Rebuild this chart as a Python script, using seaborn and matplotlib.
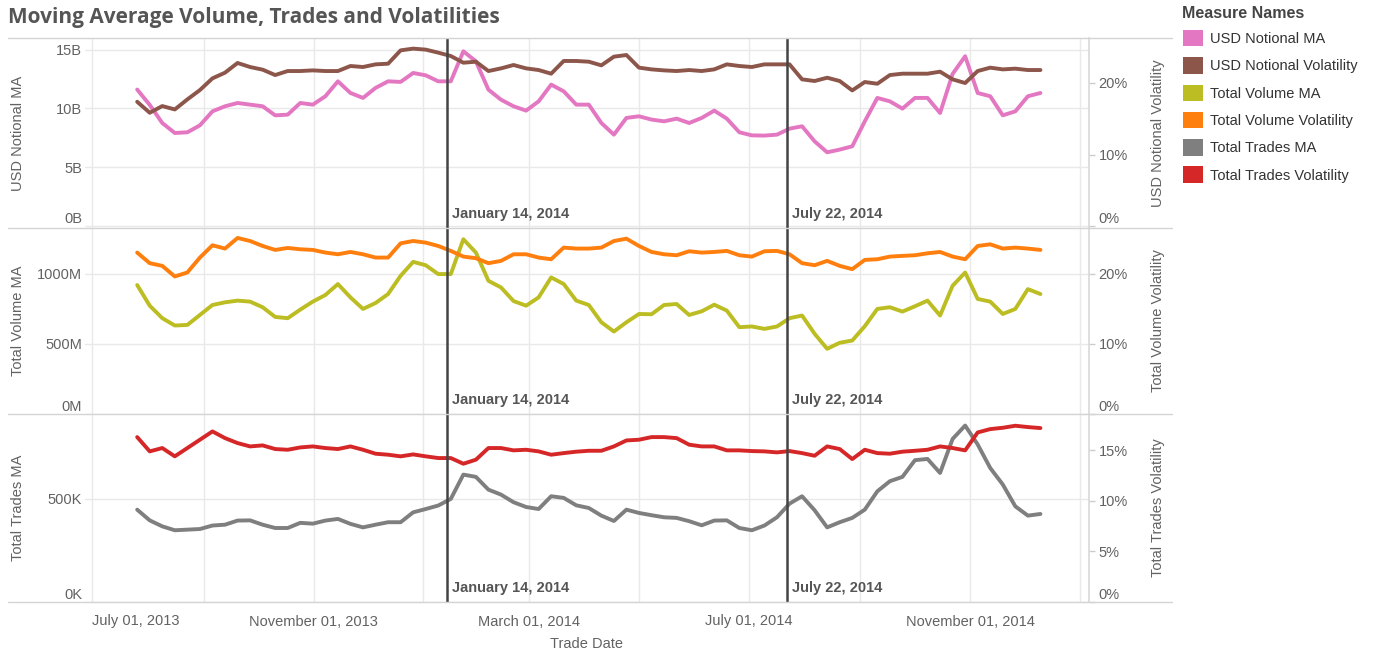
import matplotlib
matplotlib.use('Agg')
import matplotlib.pyplot as plt
import matplotlib.dates as mdates
from matplotlib.lines import Line2D
from matplotlib.patches import Patch
import pandas as pd
import seaborn as sns

# --- Data (roughly one point per week) ---
START_DATE = '2013-07-26'
END_DATE = '2014-12-10'
N_POINTS = 73

# USD notional moving average, billions
usd_notional_ma = [11.6, 10.3, 8.76, 7.91, 7.97, 8.56, 9.75, 10.18, 10.46, 10.32, 10.18, 9.41,
                   9.47, 10.46, 10.32, 11.03, 12.30, 11.31, 10.89, 11.74, 12.30, 12.25, 13.01, 12.81,
                   12.30, 12.30, 14.85, 14.00, 11.59, 10.74, 10.18, 9.81, 10.60, 12.02, 11.45, 10.32,
                   10.32, 8.76, 7.77, 9.19, 9.33, 9.05, 8.90, 9.13, 8.76, 9.19, 9.81, 9.13,
                   7.97, 7.71, 7.69, 7.77, 8.28, 8.48, 7.20, 6.27, 6.50, 6.78, 8.90, 10.89,
                   10.60, 9.98, 10.89, 10.89, 9.61, 12.93, 14.43, 11.31, 11.03, 9.41, 9.75, 11.03,
                   11.31]
# USD notional volatility, percent
usd_notional_vol = [17.37, 15.84, 16.77, 16.30, 17.70, 19.00, 20.63, 21.42, 22.77, 22.21, 21.84, 21.09,
                    21.65, 21.65, 21.74, 21.65, 21.65, 22.35, 22.21, 22.58, 22.67, 24.53, 24.77, 24.63,
                    24.21, 23.74, 22.81, 22.95, 21.65, 22.02, 22.49, 22.02, 21.79, 21.28, 23.05, 23.05,
                    22.95, 22.44, 23.65, 23.88, 22.12, 21.88, 21.74, 21.65, 21.79, 21.65, 21.88, 22.58,
                    22.35, 22.21, 22.58, 22.58, 22.58, 20.49, 20.26, 20.72, 20.26, 18.95, 20.12, 19.88,
                    21.09, 21.28, 21.28, 21.28, 21.56, 20.49, 19.98, 21.65, 22.12, 21.88, 21.98, 21.79,
                    21.79]
# Total volume moving average, millions
total_volume_ma = [918, 771, 682, 630, 634, 705, 776, 795, 807, 800, 760, 691,
                   682, 743, 800, 847, 925, 830, 748, 790, 854, 984, 1083, 1059,
                   996, 996, 1244, 1149, 948, 901, 804, 771, 830, 972, 925, 807,
                   776, 653, 587, 653, 712, 710, 776, 783, 705, 731, 778, 736,
                   618, 623, 606, 623, 682, 701, 571, 464, 507, 523, 625, 748,
                   760, 729, 767, 807, 701, 913, 1007, 819, 800, 712, 748, 889,
                   854]
# Total volume volatility, percent
total_volume_vol = [22.98, 21.47, 21.09, 19.58, 20.15, 22.27, 24.02, 23.55, 25.06, 24.63, 23.92, 23.36,
                    23.64, 23.45, 23.36, 22.98, 22.74, 23.07, 22.74, 22.27, 22.27, 24.30, 24.63, 24.40,
                    23.92, 23.22, 22.41, 22.18, 21.47, 21.80, 22.74, 22.74, 22.27, 22.03, 23.69, 23.55,
                    23.55, 23.69, 24.63, 24.96, 23.92, 23.07, 22.74, 22.60, 23.17, 22.98, 23.07, 23.22,
                    22.60, 22.41, 23.17, 23.22, 22.74, 21.47, 21.18, 21.80, 21.09, 20.62, 21.94, 22.03,
                    22.41, 22.51, 22.60, 22.88, 23.07, 22.41, 22.03, 23.92, 24.16, 23.55, 23.69, 23.55,
                    23.36]
# Total trades moving average, thousands
total_trades_ma = [448, 396, 367, 348, 351, 354, 371, 375, 395, 396, 375, 359,
                   359, 384, 380, 395, 403, 379, 362, 375, 387, 387, 435, 451,
                   468, 500, 618, 607, 545, 521, 484, 461, 451, 513, 505, 469,
                   456, 419, 393, 448, 432, 421, 411, 408, 392, 372, 395, 396,
                   359, 348, 371, 411, 477, 513, 445, 362, 387, 408, 448, 537,
                   586, 607, 688, 694, 626, 791, 856, 764, 650, 570, 464, 419,
                   427]
# Total trades volatility, percent
total_trades_vol = [16.28, 14.87, 15.20, 14.38, 15.20, 16.02, 16.84, 16.18, 15.69, 15.36, 15.46, 15.10,
                    15.03, 15.26, 15.36, 15.20, 15.10, 15.36, 15.03, 14.64, 14.54, 14.38, 14.57, 14.38,
                    14.21, 14.21, 13.65, 14.05, 15.20, 15.20, 14.97, 15.03, 14.87, 14.54, 14.70, 14.84,
                    14.93, 14.93, 15.36, 15.95, 16.02, 16.28, 16.28, 16.18, 15.53, 15.36, 15.36, 14.97,
                    14.97, 14.90, 14.87, 14.77, 14.90, 14.70, 14.44, 15.36, 15.10, 14.11, 15.03, 14.70,
                    14.64, 14.84, 14.93, 15.03, 15.36, 15.20, 14.97, 16.74, 17.07, 17.20, 17.40, 17.27,
                    17.17]

MEASURE_NAMES = ['USD Notional MA', 'USD Notional Volatility', 'Total Volume MA',
                 'Total Volume Volatility', 'Total Trades MA', 'Total Trades Volatility']
COLORS = ['#e377c2', '#8c564b', '#bcbd22', '#ff7f0e', '#7f7f7f', '#d62728']

REF_DATES = ['2014-01-14', '2014-07-22']
REF_LABELS = ['January 14, 2014', 'July 22, 2014']

TICK_DATES = ['2013-07-01', '2013-11-01', '2014-03-01', '2014-07-01', '2014-11-01']
TICK_LABELS = ['July 01, 2013', 'November 01, 2013', 'March 01, 2014', 'July 01, 2014',
               'November 01, 2014']
MINOR_DATES = ['2013-09-01', '2014-01-01', '2014-05-01', '2014-09-01', '2015-01-01']

LEFT_TICKS = [[0, 5, 10, 15], [0, 500, 1000], [0, 500]]
LEFT_TICK_LABELS = [['0B', '5B', '10B', '15B'], ['0M', '500M', '1000M'], ['0K', '500K']]
RIGHT_TICKS = [[0, 10, 20], [0, 10, 20], [0, 5, 10, 15]]
RIGHT_TICK_LABELS = [['0%', '10%', '20%'], ['0%', '10%', '20%'], ['0%', '5%', '10%', '15%']]

# --- Layout (pixels of a 1379x651 canvas) ---
W, H = 1379, 651
PANE_X = (85, 1089)
PANEL_Y = [(38, 228), (228, 414), (414, 602)]
LEFT_LIMS = [(-0.16, 15.98), (0, 1324), (0, 912)]
RIGHT_LIMS = [(-0.21, 26.25), (0, 26.48), (0, 18.56)]

TEXT_GREY = '#626262'
GRID = '#e9e9e9'
FONT = ['Liberation Sans', 'DejaVu Sans']


def frac(x0, y0, x1, y1):
    return [x0 / W, 1 - y1 / H, (x1 - x0) / W, (y1 - y0) / H]


def main():
    sns.set_theme(style='white')
    plt.rcParams['font.family'] = FONT

    dates = pd.date_range(START_DATE, END_DATE, periods=N_POINTS)
    df = pd.DataFrame({
        'date': dates,
        'usd_ma': usd_notional_ma, 'usd_vol': usd_notional_vol,
        'vol_ma': total_volume_ma, 'vol_vol': total_volume_vol,
        'trd_ma': total_trades_ma, 'trd_vol': total_trades_vol,
    })
    panels = [('usd_ma', 'usd_vol'), ('vol_ma', 'vol_vol'), ('trd_ma', 'trd_vol')]
    left_titles = ['USD Notional MA', 'Total Volume MA', 'Total Trades MA']
    right_titles = ['USD Notional Volatility', 'Total Volume Volatility', 'Total Trades Volatility']

    fig = plt.figure(figsize=(W / 100, H / 100), dpi=100)
    fig.patch.set_facecolor('white')

    xlim = (pd.Timestamp('2013-06-27'), pd.Timestamp('2015-01-06'))
    major = [pd.Timestamp(d) for d in TICK_DATES]
    minor = [pd.Timestamp(d) for d in MINOR_DATES]

    for i, (ma_col, vol_col) in enumerate(panels):
        y0, y1 = PANEL_Y[i]
        ax = fig.add_axes(frac(PANE_X[0], y0, PANE_X[1], y1))
        ax2 = ax.twinx()

        sns.lineplot(data=df, x='date', y=ma_col, ax=ax, color=COLORS[2 * i], lw=2.8)
        sns.lineplot(data=df, x='date', y=vol_col, ax=ax2, color=COLORS[2 * i + 1], lw=2.8)

        ax.set_xlim(xlim)
        ax.set_ylim(LEFT_LIMS[i])
        ax2.set_ylim(RIGHT_LIMS[i])
        ax.set_xticks(major)
        ax.set_xticks(minor, minor=True)
        ax.grid(True, which='both', axis='x', color=GRID, lw=1)
        ax.grid(True, which='major', axis='y', color=GRID, lw=1)
        ax.set_axisbelow(True)

        ax.set_yticks(LEFT_TICKS[i])
        ax.set_yticklabels(LEFT_TICK_LABELS[i])
        ax2.set_yticks(RIGHT_TICKS[i])
        ax2.set_yticklabels(RIGHT_TICK_LABELS[i])
        ax.tick_params(axis='y', length=0, pad=2, labelsize=10.5, labelcolor=TEXT_GREY)
        ax2.tick_params(axis='y', length=4, width=1, color='#cccccc', pad=3,
                        labelsize=10.5, labelcolor=TEXT_GREY)
        ax.get_yticklabels()[0].set_va('bottom')
        ax2.get_yticklabels()[0].set_va('bottom')
        ax.set_xlabel('')
        ax.set_ylabel('')
        ax2.set_ylabel('')

        for a in (ax, ax2):
            for s in a.spines.values():
                s.set_visible(False)
        ax2.spines['right'].set_visible(True)
        ax2.spines['right'].set_color('#d9d9d9')

        if i < 2:
            ax.tick_params(axis='x', which='both', length=0, labelbottom=False)
        else:
            ax.set_xticklabels(TICK_LABELS)
            ax.tick_params(axis='x', which='both', length=5, width=1, color='#cccccc',
                           pad=4, labelsize=10.5, labelcolor=TEXT_GREY)
            ax.get_xticklabels()[0].set_ha('left')
            ax.set_xlabel('Trade Date', fontsize=10.5, color=TEXT_GREY, labelpad=6)

        # reference lines with their date labels
        for d, lab in zip(REF_DATES, REF_LABELS):
            ax2.axvline(pd.Timestamp(d), color='#444444', lw=1.8, zorder=5)
            ax2.annotate(lab, xy=(mdates.date2num(pd.Timestamp(d)), 0),
                         xycoords=ax2.get_xaxis_transform(), xytext=(4, 5),
                         textcoords='offset points', ha='left', va='bottom',
                         fontsize=10.5, color='#555555', fontweight='bold')

        yc = 1 - (y0 + y1) / 2 / H
        fig.text(18 / W, yc, left_titles[i], rotation=90, ha='center', va='center',
                 fontsize=10.5, color=TEXT_GREY)
        fig.text(1158 / W, yc, right_titles[i], rotation=90, ha='center', va='center',
                 fontsize=10.5, color=TEXT_GREY)

    # panel separators spanning the header areas
    for yy in (38, 228, 414, 602):
        fig.add_artist(Line2D([8 / W, 1172 / W], [1 - yy / H, 1 - yy / H],
                              color='#d4d4d4', lw=1))

    fig.text(8 / W, 1 - 18 / H, 'Moving Average Volume, Trades and Volatilities',
             ha='left', va='center', fontsize=15, fontweight='bold', color='#555555',
             family=['Open Sans', 'DejaVu Sans'])

    # legend: title as its own text, colour swatches below it
    fig.text(1182 / W, 1 - 14 / H, 'Measure Names', ha='left', va='center',
             fontsize=11.5, fontweight='bold', color='#444444')
    handles = [Patch(facecolor=c, edgecolor='none') for c in COLORS]
    leg = fig.legend(handles, MEASURE_NAMES, loc='upper left',
                     bbox_to_anchor=(1180 / W, 1 - 27 / H), frameon=False, fontsize=10.5,
                     handlelength=1.35, handleheight=1.35, handletextpad=0.5,
                     labelspacing=0.75, borderaxespad=0, borderpad=0.2)
    for t in leg.get_texts():
        t.set_color('#333333')

    fig.savefig('out.png', dpi=100, facecolor='white')


if __name__ == '__main__':
    main()
